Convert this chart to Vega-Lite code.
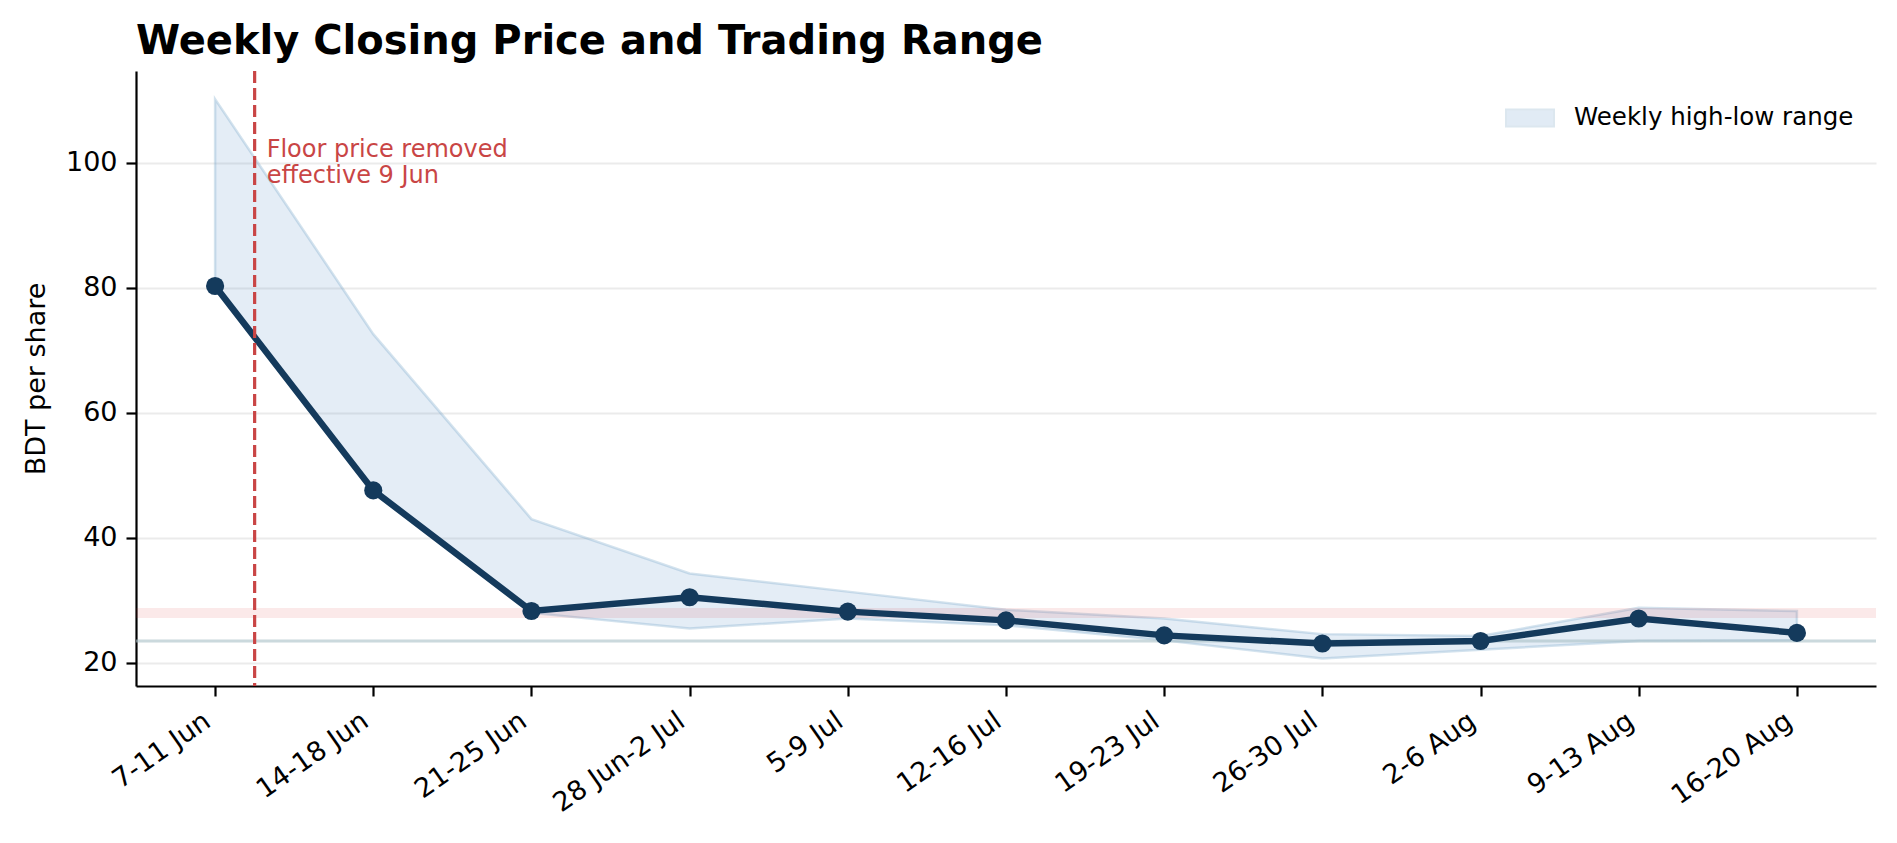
{
  "$schema": "https://vega.github.io/schema/vega-lite/v6.json",
  "autosize": {"type": "none"},
  "width": 1740,
  "height": 615,
  "padding": {"left": 136, "top": 71, "right": 21, "bottom": 157},
  "title": {
    "text": "Weekly Closing Price and Trading Range",
    "anchor": "start",
    "frame": "group",
    "baseline": "alphabetic",
    "offset": -25,
    "fontSize": 40,
    "fontWeight": "bold",
    "color": "black"
  },
  "datasets": {
    "weeks": [
      {"idx": 0, "week": "7-11 Jun", "close": 80.3, "high": 110.2, "low": 79.8},
      {"idx": 1, "week": "14-18 Jun", "close": 47.6, "high": 72.6, "low": 47.2},
      {"idx": 2, "week": "21-25 Jun", "close": 28.3, "high": 43.0, "low": 28.0},
      {"idx": 3, "week": "28 Jun-2 Jul", "close": 30.5, "high": 34.3, "low": 25.5},
      {"idx": 4, "week": "5-9 Jul", "close": 28.2, "high": 31.4, "low": 27.1},
      {"idx": 5, "week": "12-16 Jul", "close": 26.8, "high": 28.5, "low": 26.0},
      {"idx": 6, "week": "19-23 Jul", "close": 24.4, "high": 27.1, "low": 23.6},
      {"idx": 7, "week": "26-30 Jul", "close": 23.1, "high": 24.6, "low": 20.7},
      {"idx": 8, "week": "2-6 Aug", "close": 23.5, "high": 24.3, "low": 22.1},
      {"idx": 9, "week": "9-13 Aug", "close": 27.1, "high": 28.8, "low": 23.5},
      {"idx": 10, "week": "16-20 Aug", "close": 24.8, "high": 28.3, "low": 23.6}
    ]
  },
  "layer": [
    {
      "layer": [
        {
          "data": {"name": "weeks"},
          "mark": {"type": "area", "fillOpacity": 0.15, "stroke": "#6fa3c8", "strokeOpacity": 0.3, "strokeWidth": 2.5},
          "encoding": {
            "x": {
              "field": "week",
              "type": "nominal",
              "sort": null,
              "scale": {"type": "point", "padding": 0.5},
              "axis": {
                "title": null,
                "labelAngle": -35,
                "labelAlign": "right",
                "labelBaseline": "middle",
                "labelOffset": -8,
                "labelPadding": 22,
                "grid": false
              }
            },
            "y": {
              "field": "high",
              "type": "quantitative",
              "title": "BDT per share",
              "scale": {"domain": [16.3, 114.7], "nice": false, "zero": false},
              "axis": {"values": [20, 40, 60, 80, 100]}
            },
            "y2": {"field": "low"},
            "fill": {
              "datum": "Weekly high-low range",
              "type": "nominal",
              "scale": {"range": ["#4a86c5"]},
              "legend": {
                "title": null,
                "orient": "top-right",
                "offset": 22,
                "padding": 0,
                "symbolType": "M-1,-0.35L1,-0.35L1,0.35L-1,0.35Z",
                "symbolSize": 2304,
                "symbolOpacity": 0.16,
                "symbolStrokeColor": "#2f6f9f",
                "symbolStrokeWidth": 2,
                "labelFontSize": 24.5,
                "labelColor": "black",
                "labelOffset": 19,
                "labelLimit": 500
              }
            }
          }
        },
        {
          "data": {"values": [{"lo": 27.2, "hi": 28.8}]},
          "mark": {"type": "rect", "color": "#d62728", "opacity": 0.1},
          "encoding": {
            "y": {"field": "lo", "type": "quantitative", "title": "BDT per share"},
            "y2": {"field": "hi"}
          }
        },
        {
          "data": {"values": [{"level": 23.5}]},
          "mark": {"type": "rule", "color": "#a9bfc6", "opacity": 0.6, "strokeWidth": 3},
          "encoding": {
            "y": {"field": "level", "type": "quantitative", "title": "BDT per share"}
          }
        },
        {
          "data": {"name": "weeks"},
          "mark": {"type": "line", "color": "#143a5c", "strokeWidth": 6.5},
          "encoding": {
            "x": {"field": "week", "type": "nominal", "sort": null},
            "y": {"field": "close", "type": "quantitative", "title": "BDT per share"}
          }
        },
        {
          "data": {"name": "weeks"},
          "mark": {"type": "circle", "color": "#143a5c", "opacity": 1, "size": 330},
          "encoding": {
            "x": {"field": "week", "type": "nominal", "sort": null},
            "y": {"field": "close", "type": "quantitative", "title": "BDT per share"}
          }
        }
      ]
    },
    {
      "data": {"values": [{"x": 0.25, "y": 101, "note": ["Floor price removed", "effective 9 Jun"]}]},
      "layer": [
        {
          "mark": {"type": "rule", "color": "#c94545", "strokeWidth": 3.2, "strokeDash": [12, 5]},
          "encoding": {
            "x": {
              "field": "x",
              "type": "quantitative",
              "scale": {"domain": [-0.5, 10.5], "nice": false, "zero": false},
              "axis": null
            }
          }
        },
        {
          "mark": {"type": "text", "color": "#c94545", "fontSize": 24, "align": "left", "baseline": "alphabetic", "dx": 12, "lineHeight": 26},
          "encoding": {
            "x": {"field": "x", "type": "quantitative"},
            "y": {"field": "y", "type": "quantitative", "title": "BDT per share"},
            "text": {"field": "note"}
          }
        }
      ]
    }
  ],
  "resolve": {"scale": {"x": "independent"}, "axis": {"x": "independent"}},
  "config": {
    "font": "DejaVu Sans",
    "view": {"stroke": null},
    "axis": {
      "domainColor": "black",
      "domainWidth": 2.2,
      "tickColor": "black",
      "tickWidth": 2.2,
      "tickSize": 10,
      "labelPadding": 9,
      "labelFontSize": 27,
      "labelColor": "black",
      "titleFontSize": 27,
      "titleFontWeight": "normal",
      "titleColor": "black"
    },
    "axisY": {
      "grid": true,
      "gridColor": "#ebebeb",
      "gridWidth": 2,
      "titleX": -100,
      "titleY": 307.5,
      "titleAlign": "center",
      "titleBaseline": "middle",
      "titleAngle": -90
    }
  }
}
